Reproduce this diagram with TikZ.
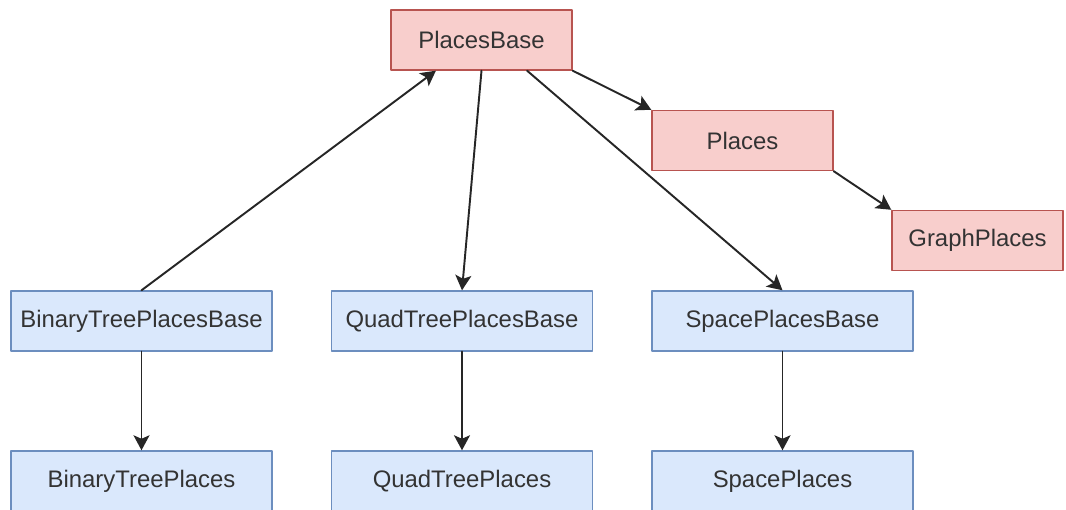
\documentclass[tikz,border=0pt]{standalone}
\usepackage{fontspec}
\setmainfont{Liberation Sans}
\usetikzlibrary{arrows.meta,calc}
\definecolor{redfill}{HTML}{F8CECC}
\definecolor{redline}{HTML}{B85450}
\definecolor{bluefill}{HTML}{DAE8FC}
\definecolor{blueline}{HTML}{6C8EBF}
\begin{document}
\begin{tikzpicture}[line cap=round, line join=round, x=1cm, y=1cm,
    redbox/.style={draw=redline, fill=redfill, line width=0.8pt, minimum width=3.62cm, minimum height=1.2cm, inner sep=0pt,
      text=black!80, font=\fontsize{13.6}{16}\selectfont},
    bluebox/.style={draw=blueline, fill=bluefill, line width=0.8pt, minimum width=5.22cm, minimum height=1.2cm, inner sep=0pt,
      text=black!80, font=\fontsize{13.6}{16}\selectfont},
    arr/.style={draw=black!85, line width=1.1pt, -{Stealth[length=0.3cm, width=0.32cm, inset=0.07cm]}}]

                \useasboundingbox (0,0) rectangle (21.32,-10.2);
                \clip (0,0) rectangle (21.32,-10.2);

                % top: red classes
                \node[redbox] (placesbase) at (9.63,-0.8) {PlacesBase};
                \node[redbox] (places) at (14.85,-2.81) {Places};
                \node[redbox, minimum width=3.42cm] (graphplaces) at (19.55,-4.81) {GraphPlaces};

                % middle row
                \node[bluebox] (binbase) at (2.83,-6.42) {BinaryTreePlacesBase};
                \node[bluebox] (quadbase) at (9.24,-6.42) {QuadTreePlacesBase};
                \node[bluebox] (spacebase) at (15.65,-6.42) {SpacePlacesBase};

                % bottom row
                \node[bluebox] (bin) at (2.83,-9.62) {BinaryTreePlaces};
                \node[bluebox] (quad) at (9.24,-9.62) {QuadTreePlaces};
                \node[bluebox] (space) at (15.65,-9.62) {SpacePlaces};

                \draw[arr] (binbase.north) -- ($(placesbase.south west)!0.25!(placesbase.south east)$);
                \draw[arr] (placesbase.south) -- (quadbase.north);
                \draw[arr] ($(placesbase.south west)!0.75!(placesbase.south east)$) -- (spacebase.north);
                \draw[arr] (placesbase.south east) -- (places.north west);
                \draw[arr] (places.south east) -- (graphplaces.north west);

                \draw[arr] (binbase) -- (bin);
                \draw[arr] (quadbase) -- (quad);
                \draw[arr] (spacebase) -- (space);

            \end{tikzpicture}
\end{document}
